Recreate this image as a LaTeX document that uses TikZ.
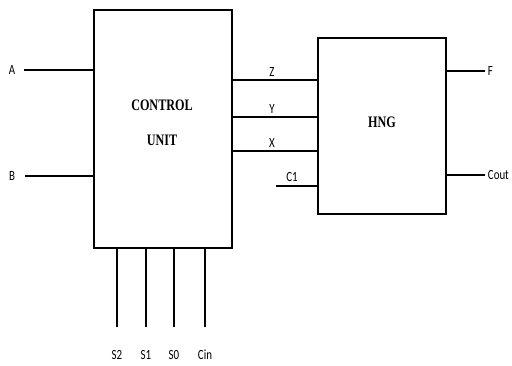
\documentclass[tikz,border=0pt]{standalone}
\usepackage{fontspec}
\newfontfamily\lblfont{Carlito}
\newfontfamily\boxfont{Liberation Serif}
\usetikzlibrary{positioning,calc}
\tikzset{
  blk/.style={draw,line width=1.8pt,inner sep=0pt},
  wire/.style={line width=1.8pt},
  lbl/.style={font=\fontsize{14}{14}\selectfont\lblfont,xscale=0.78,inner sep=1pt},
  ttl/.style={font=\fontsize{16}{16}\selectfont\boxfont\bfseries,xscale=0.76,align=center}
}
\begin{document}
\begin{tikzpicture}[x=1pt,y=1pt]
  \useasboundingbox (0,0) rectangle (512,365);
  % the two blocks
  \node[blk,minimum width=138pt,minimum height=238pt] (cu) at (163,236) {};
  \node[blk,minimum width=128pt,minimum height=176pt] (hng) at (382,239) {};
  \node[ttl] at (162,260) {CONTROL};
  \node[ttl] at (162,225) {UNIT};
  \node[ttl] at (382,243) {HNG};
  % inputs of the control unit
  \coordinate (a) at (24,295);
  \coordinate (b) at (25,189);
  \draw[wire] (a) -- (a -| cu.west);
  \draw[wire] (b) -- (b -| cu.west);
  \node[lbl] at (12,295) {A};
  \node[lbl] at (12,189) {B};
  % control unit to HNG
  \foreach \nm/\yy in {Z/285,Y/248,X/214} {
    \draw[wire] (cu.east |- 0,\yy) -- (hng.west |- 0,\yy);
    \node[lbl] at (272,\yy+8) {\nm};
  }
  \coordinate (c1) at (276,179);
  \draw[wire] (c1) -- (c1 -| hng.west);
  \node[lbl] at (292,188) {C1};
  % outputs
  \coordinate (f) at (485,294);
  \coordinate (cout) at (485,190);
  \draw[wire] (hng.east |- f) -- (f);
  \draw[wire] (hng.east |- cout) -- (cout);
  \node[lbl,anchor=west] at (487,294) {F};
  \node[lbl,anchor=west] at (487,190) {Cout};
  % select lines
  \foreach \nm/\xx in {S2/117,S1/146,S0/174,Cin/205} {
    \draw[wire] (\xx,0 |- cu.south) -- (\xx,38);
    \node[lbl] at (\xx,10) {\nm};
  }
\end{tikzpicture}
\end{document}
